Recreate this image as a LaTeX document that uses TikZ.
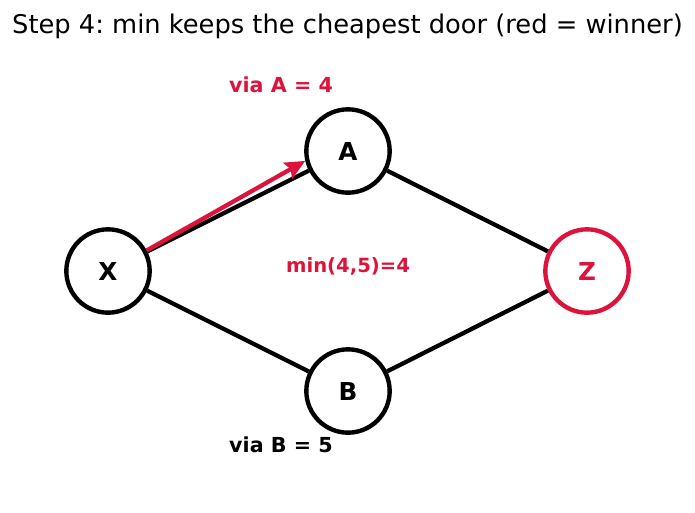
\documentclass[tikz,border=0pt]{standalone}
\usepackage{fontspec}
\setmainfont{DejaVu Sans}
\usetikzlibrary{arrows.meta}
\definecolor{winner}{RGB}{220,20,60}
\frenchspacing

\begin{document}
\begin{tikzpicture}[x=0.75pt,y=-0.75pt,
    door/.style={circle,draw=black,line width=3.3pt,fill=white,inner sep=0pt,
      minimum size=62.5pt,font=\fontsize{18.5}{22}\selectfont\bfseries},
    edge/.style={draw=black,line width=3.2pt},
    cost/.style={font=\fontsize{15.5}{18}\selectfont\bfseries}]
  % Frame
  \useasboundingbox (0,0) rectangle (695,512);

  % Title
  \node[font=\fontsize{19.3}{23}\selectfont] (title) at (347.5,26)
    {Step 4: min keeps the cheapest door (red = winner)};

  % Doors
  \node[door] (X) at (108,271) {X};
  \node[door] (A) at (348,151) {A};
  \node[door] (B) at (348,391) {B};
  \node[door,draw=winner,text=winner] (Z) at (587,271) {Z};

  % Edges
  \draw[edge] (X) -- (A);
  \draw[edge] (A) -- (Z);
  \draw[edge] (X) -- (B);
  \draw[edge] (B) -- (Z);

  % Winning path
  \draw[winner,line width=3.2pt,-{Stealth[length=15pt,width=13.5pt,inset=2.5pt]}] (X.28) -- (A.193);

  % Costs
  \node[cost,text=winner] (viaA) at (281,85) {via A = 4};
  \node[cost] (viaB) at (281,445) {via B = 5};
  \node[cost,text=winner,font=\fontsize{14.7}{17}\selectfont\bfseries] (minlabel) at (348,266) {min(4,5)=4};
\end{tikzpicture}
\end{document}
